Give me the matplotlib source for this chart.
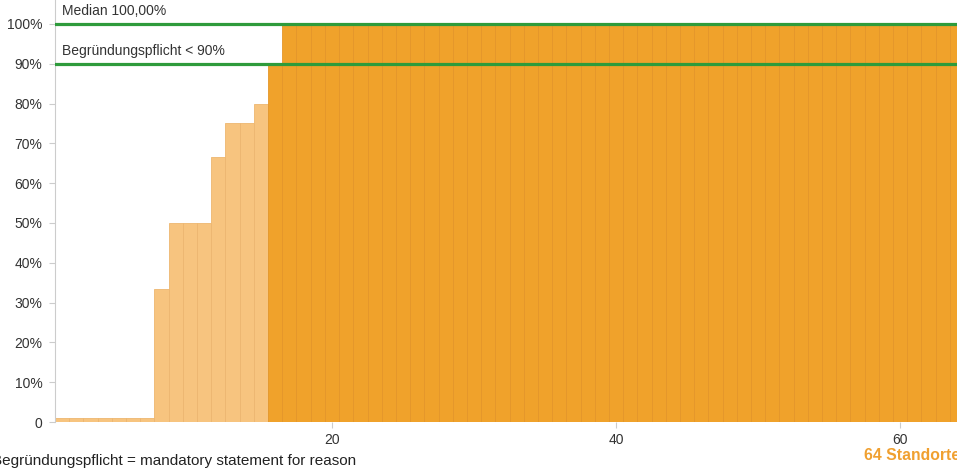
import numpy as np
import matplotlib
matplotlib.use("Agg")
import matplotlib.pyplot as plt

plt.rcParams['font.family'] = ['Liberation Sans', 'DejaVu Sans']

# share of reports per site (sorted), 64 sites
site_values = [0] * 7 + [33.3, 50, 50, 50, 66.7, 75, 75, 80] + [90] + [100] * 48
median_value = 100.0
threshold = 90.0
y_ticks = [0, 10, 20, 30, 40, 50, 60, 70, 80, 90, 100]
y_labels = ["0"] + ["%d%%" % t for t in y_ticks[1:]]
x_ticks = [20, 40, 60]

dark = "#F0A22B"
light = "#F7C47F"
green = "#2E9B3B"

vals = np.array(site_values, dtype=float)
x = np.arange(1, len(vals) + 1)
colors = [dark if v >= threshold else light for v in vals]
edges = ["#E4962A" if v >= threshold else "#EDB670" for v in vals]
shown = np.maximum(vals, 0.9)  # zero sites still get a thin strip

fig = plt.figure(figsize=(9.57, 4.69), dpi=100)
ax = fig.add_axes([55 / 957, 1 - 422 / 469, 1 - 55 / 957, 422 / 469])

ax.bar(x, shown, width=1.0, color=colors, edgecolor=edges, linewidth=0.6)

ax.axhline(median_value, color=green, lw=2.3, zorder=3)
ax.axhline(threshold, color=green, lw=2.3, zorder=3)
ax.text(1.0, median_value + 1.4, "Median 100,00%", fontsize=10, color="#333333", va="bottom")
ax.text(1.0, threshold + 1.4, "Begründungspflicht < 90%", fontsize=10, color="#333333", va="bottom")

ax.set_xlim(0.5, 64.0)
ax.set_ylim(0, 106.03)
ax.set_yticks(y_ticks)
ax.set_yticklabels(y_labels)
ax.set_xticks(x_ticks)
ax.tick_params(axis='both', labelsize=10, labelcolor="#333333", color="#cccccc", length=4)
ax.tick_params(axis='y', pad=5)
ax.tick_params(axis='x', pad=4)

for s in ["top", "right", "bottom"]:
    ax.spines[s].set_visible(False)
ax.spines["left"].set_color("#cccccc")

fig.text(-8 / 957, 1 - 461 / 469, "Begründungspflicht = mandatory statement for reason",
         fontsize=11, color="#222222", va="center")
fig.text(864 / 957, 1 - 455 / 469, "64 Standorte", fontsize=11.3, color="#F0A030",
         fontweight="bold", va="center")

fig.savefig("out.png", dpi=100)
